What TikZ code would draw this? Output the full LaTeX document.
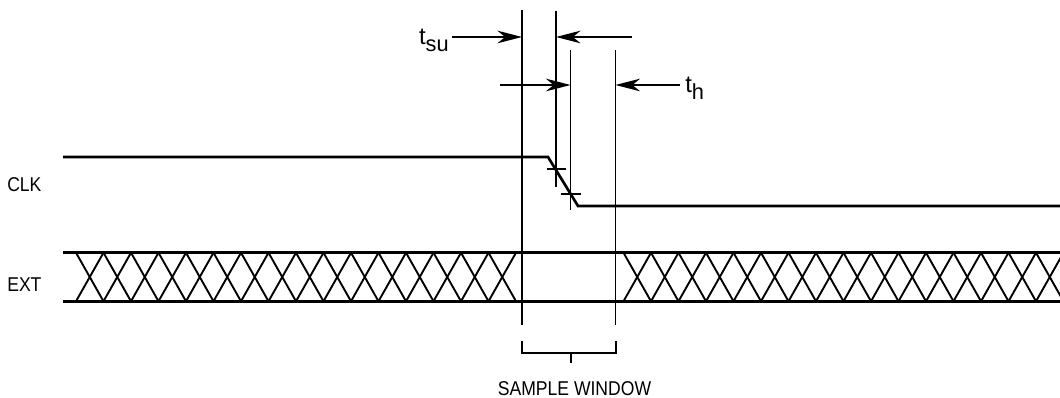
\documentclass[tikz,border=0pt]{standalone}
\usepackage{fontspec}
\setmainfont{Liberation Sans}
\newfontfamily\lblfont[FakeStretch=0.88]{Liberation Sans}
\usetikzlibrary{arrows.meta}

\begin{document}
\begin{tikzpicture}[x=0.025cm,y=-0.025cm,
        signal/.style={line width=1.9pt},
        hatch/.style={line width=1.35pt},
        guide/.style={line width=0.75pt},
        dimarrow/.style={line width=1pt,-{Stealth[length=17.5pt,width=9pt,inset=5.5pt]}},
        sig label/.style={font=\lblfont\fontsize{14.2}{15}\selectfont,inner sep=0pt},
        time label/.style={font=\fontsize{17}{18}\selectfont,inner sep=0pt}]

        \useasboundingbox (0,0) rectangle (1060,398);

        % guide lines
        \coordinate (G1top) at (522,10);     \coordinate (G1bot) at (522,325);
        \coordinate (G2top) at (556,11);     \coordinate (G2bot) at (556,187);
        \coordinate (G3top) at (570.5,50);   \coordinate (G3bot) at (570.5,210);
        \coordinate (G4top) at (615.5,50);   \coordinate (G4bot) at (615.5,325);
        \draw[guide] (G1top) -- (G1bot);
        \draw[guide] (G2top) -- (G2bot);
        \draw[guide] (G3top) -- (G3bot);
        \draw[guide] (G4top) -- (G4bot);

        % CLK
        \node[sig label,anchor=west] (CLK) at (7,185) {CLK};
        \coordinate (C1) at (63,157);
        \coordinate (C2) at (548,157);
        \coordinate (C3) at (578,206);
        \coordinate (C4) at (1060,206);
        \draw[signal] (C1) -- (C2) -- (C3) -- (C4);
        \draw[guide] (547,169) -- (566,169);
        \draw[guide] (561,194) -- (581,194);

        % EXT
        \node[sig label,anchor=west] (EXT) at (7,285) {EXT};
        \coordinate (E1) at (63,252.7);  \coordinate (E2) at (1060,252.7);
        \coordinate (E3) at (63,301.3);  \coordinate (E4) at (1060,301.3);
        \draw[signal] (E1) -- (E2);
        \draw[signal] (E3) -- (E4);
        \begin{scope}
          \clip (0,0) rectangle (1060,398);
          \foreach \s in {76,623.5}
            \foreach \i in {0,...,15}{
              \draw[hatch] (\s+27.5*\i,252.7) -- (\s+27.5*\i+27.5,301.3);
              \draw[hatch] (\s+27.5*\i,301.3) -- (\s+27.5*\i+27.5,252.7);
            }
        \end{scope}

        % setup and hold
        \node[time label,anchor=base east] (tsu) at (449,45) {t\raisebox{-0.27em}{\fontsize{15.5}{16}\selectfont su}};
        \coordinate (SUa) at (452,37);  \coordinate (SUb) at (522,37);
        \coordinate (SUc) at (632,37);  \coordinate (SUd) at (556,37);
        \draw[dimarrow] (SUa) -- (SUb);
        \draw[dimarrow] (SUc) -- (SUd);

        \node[time label,anchor=base west] (th) at (685,93) {t\raisebox{-0.27em}{\fontsize{15.5}{16}\selectfont h}};
        \coordinate (Ha) at (500,85);  \coordinate (Hb) at (570.5,85);
        \coordinate (Hc) at (680,85);  \coordinate (Hd) at (615.5,85);
        \draw[dimarrow] (Ha) -- (Hb);
        \draw[dimarrow] (Hc) -- (Hd);

        % sample window
        \coordinate (W1) at (522,341);  \coordinate (W2) at (616,341);
        \coordinate (Wm) at (571,353);
        \draw[line width=1pt] (W1) -- (522,353) -- (616,353) -- (W2);
        \draw[line width=1pt] (Wm) -- ++(0,10);
        \node[sig label] (SW) at (574.5,388.5) {SAMPLE WINDOW};
      \end{tikzpicture}
\end{document}
